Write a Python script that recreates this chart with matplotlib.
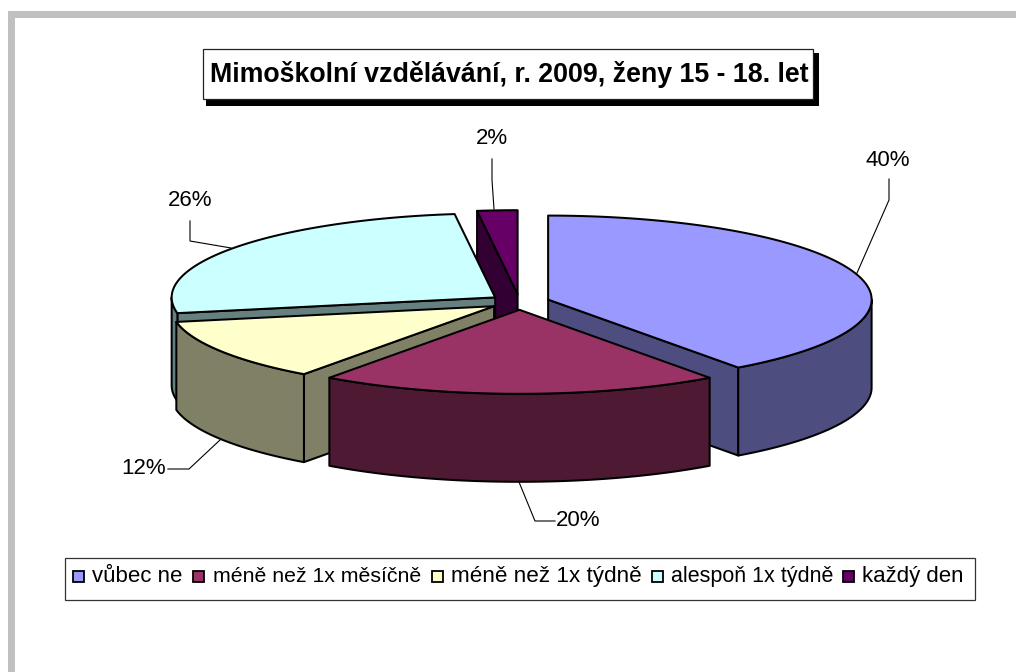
import numpy as np
import matplotlib
matplotlib.use("Agg")
import matplotlib.pyplot as plt
from matplotlib.patches import Polygon, Rectangle

categories = ["vůbec ne", "méně než 1x měsíčně", "méně než 1x týdně", "alespoň 1x týdně", "každý den"]
values = [40, 20, 12, 26, 2]
top_colors = ["#9999FF", "#993366", "#FFFFCC", "#CCFFFF", "#660066"]
side_colors = ["#4D4D80", "#4D1933", "#808066", "#668080", "#330033"]
title = "Mimoškolní vzdělávání, r. 2009, ženy 15 - 18. let"

# layout (pixel space of the figure)
W, H = 1016, 672
CX, CY = 519.5, 302
RX, RY = 323.5, 84
DEPTH = 88
EXPLODE = 0.093
label_xy = [(888, 160), (578, 521), (144, 468), (190, 200), (492, 139)]
leaders = [
    [(889, 179), (889, 200), (857, 273)],
    [(519, 482), (535, 521), (555, 521)],
    [(168, 469), (189, 469), (220, 440)],
    [(190, 221), (190, 241), (231, 248)],
    [(492, 159), (492, 180), (494, 209)],
]
legend_swatch_x = [73, 193, 432, 652, 843]
legend_text_x = [92, 213, 451, 671, 862]
legend_font = [16, 15.3, 16.2, 15.5, 16]

plt.rcParams["font.family"] = ["Liberation Sans", "DejaVu Sans"]
fig = plt.figure(figsize=(W / 100, H / 100), dpi=100, facecolor="white")
ax = fig.add_axes([0, 0, 1, 1])
ax.set_xlim(0, W)
ax.set_ylim(H, 0)
ax.axis("off")

# page frame
ax.add_patch(Rectangle((8, 11), W - 8, 7, fc="#C0C0C0", ec="none"))
ax.add_patch(Rectangle((8, 11), 7, H - 11, fc="#C0C0C0", ec="none"))

# title box
ax.add_patch(Rectangle((206, 53), 613, 53, fc="black", ec="none", zorder=2))
ax.add_patch(Rectangle((203, 49), 610, 50, fc="white", ec="#222222", lw=0.9, zorder=3))
ax.text(509.5, 75, title, ha="center", va="center", fontsize=19.3, fontweight="bold", zorder=4)


def rim(cx, cy, a, b):
    t = np.radians(np.linspace(a, b, max(int(abs(b - a) * 2), 2)))
    return np.column_stack([cx + RX * np.sin(t), cy - RY * np.cos(t)])


fractions = np.array(values, float) / sum(values)
edges = np.concatenate([[0], np.cumsum(fractions) * 360])
slices = []
for i in range(len(values)):
    a, b = edges[i], edges[i + 1]
    m = np.radians((a + b) / 2)
    cx = CX + EXPLODE * RX * np.sin(m)
    cy = CY - EXPLODE * RY * np.cos(m)
    slices.append((cy, cx, a, b, i))

LW = 1.45
zorder = 5
for cy, cx, a, b, i in sorted(slices):
    apex = np.array([cx, cy])
    drop = np.array([0, DEPTH])
    # side walls of the cut, where they face the viewer
    for ang, visible in ((a, np.sin(np.radians(a)) < -1e-9), (b, np.sin(np.radians(b)) > 1e-9)):
        if visible:
            p = rim(cx, cy, ang, ang)[0]
            ax.add_patch(Polygon([apex, p, p + drop, apex + drop], closed=True, fc=side_colors[i],
                                 ec="black", lw=LW, joinstyle="round", zorder=zorder))
            zorder += 1
    # outer wall on the front half of the ellipse
    lo, hi = max(a, 90), min(b, 270)
    if hi > lo:
        arc = rim(cx, cy, lo, hi)
        ax.add_patch(Polygon(np.vstack([arc, (arc + drop)[::-1]]), closed=True, fc=side_colors[i],
                             ec="black", lw=LW, joinstyle="round", zorder=zorder))
        zorder += 1
    # top face
    ax.add_patch(Polygon(np.vstack([apex, rim(cx, cy, a, b)]), closed=True, fc=top_colors[i],
                         ec="black", lw=LW, joinstyle="round", zorder=zorder))
    zorder += 1

# data labels and leader lines
for v, (x, y), pts in zip(values, label_xy, leaders):
    ax.text(x, y, f"{v}%", ha="center", va="center", fontsize=16, zorder=50)
    xs, ys = zip(*pts)
    ax.plot(xs, ys, color="black", lw=0.8, zorder=49, solid_joinstyle="miter")

# legend
ax.add_patch(Rectangle((65, 557.5), 910, 42.5, fc="white", ec="#333333", lw=0.9, zorder=40))
for name, color, sx, tx, fs in zip(categories, top_colors, legend_swatch_x, legend_text_x, legend_font):
    ax.add_patch(Rectangle((sx, 571), 10.5, 10.5, fc=color, ec="black", lw=1.3, zorder=41))
    ax.text(tx, 576.5, name, ha="left", va="center", fontsize=fs, zorder=41)

fig.savefig("out.png", dpi=100)
